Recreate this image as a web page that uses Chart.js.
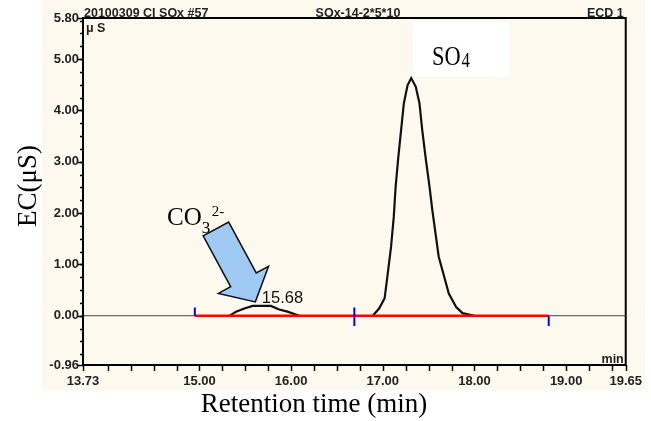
<!DOCTYPE html>
<html>
<head>
<meta charset="utf-8">
<script src="https://cdn.jsdelivr.net/npm/chart.js@4/dist/chart.umd.min.js"></script>
<style>
  html, body { margin: 0; padding: 0; background: #fff; }
  #wrap { width: 651px; height: 421px; position: relative; }
</style>
</head>
<body>
<div id="wrap"><canvas id="chart"></canvas></div>
<script>
// chromatogram trace (retention time in min, conductivity in uS)
const traceTime = [13.73, 15.33, 15.40, 15.49, 15.58, 15.78, 15.87, 15.96, 16.09,
  16.89, 16.96, 17.02, 17.05, 17.09, 17.12, 17.14, 17.17, 17.20, 17.23, 17.27, 17.31,
  17.36, 17.40, 17.43, 17.47, 17.51, 17.54, 17.58, 17.61, 17.67, 17.72, 17.80, 17.87, 18.00, 19.65];
const traceEC = [0, 0, 0.08, 0.14, 0.19, 0.19, 0.12, 0.08, 0,
  0, 0.14, 0.34, 0.76, 1.34, 1.93, 2.51, 3.10, 3.62, 4.14, 4.49, 4.63,
  4.46, 4.14, 3.62, 3.04, 2.51, 2.06, 1.54, 1.15, 0.76, 0.43, 0.17, 0.05, 0, 0];

// integration baseline and its markers
const baseStart = 14.95;
const baseEnd = 18.81;
const markerTime = [14.95, 16.69, 18.81];
const markerLow = [0, -0.2, -0.2];
const markerHigh = [0.16, 0.16, 0];

// axis labels
const xLabelValues = [13.73, 15.00, 16.00, 17.00, 18.00, 19.00, 19.65];
const yLabelValues = [-0.96, 0.00, 1.00, 2.00, 3.00, 4.00, 5.00, 5.80];

const peakLabel = { time: 15.68, value: 0.19, text: '15.68' };

const traceData = traceTime.map((t, i) => ({ x: t, y: traceEC[i] }));
const flat = ctx => ctx.p0.parsed.y === 0 && ctx.p1.parsed.y === 0;

const datasets = [
  {
    label: 'baseline',
    data: [{ x: baseStart, y: 0 }, { x: baseEnd, y: 0 }],
    borderColor: '#ff0000',
    borderWidth: 2.6,
    pointRadius: 0,
    order: 1
  },
  {
    label: 'trace',
    data: traceData,
    borderColor: '#111',
    borderWidth: 2.2,
    pointRadius: 0,
    segment: {
      borderWidth: ctx => flat(ctx) ? 1 : 2.2,
      borderColor: ctx => flat(ctx) ? '#444' : '#111'
    },
    order: 2
  }
];
markerTime.forEach((t, i) => {
  datasets.push({
    label: 'marker' + i,
    data: [{ x: t, y: markerLow[i] }, { x: t, y: markerHigh[i] }],
    borderColor: '#0000ff',
    borderWidth: 2,
    pointRadius: 0,
    order: 0
  });
});

const decorPlugin = {
  id: 'decor',
  beforeDraw(chart) {
    const c = chart.ctx;
    c.save();
    c.fillStyle = '#ffffff';
    c.fillRect(0, 0, chart.width, chart.height);
    c.fillStyle = '#fdf9ef';
    c.fillRect(42, 0, 603, 390);
    // white box behind the SO4 label
    c.fillStyle = '#ffffff';
    c.fillRect(413, 22, 97, 55);
    c.restore();
  },
  afterDraw(chart) {
    const c = chart.ctx;
    const a = chart.chartArea;
    const xs = chart.scales.x, ys = chart.scales.y;
    c.save();
    // frame
    c.strokeStyle = '#000';
    c.lineWidth = 2;
    c.strokeRect(a.left, a.top, a.right - a.left, a.bottom - a.top);

    // x ticks every 0.25 min plus ends
    c.lineWidth = 1.5;
    const xt = [13.73];
    for (let v = 14; v < 19.65; v += 0.25) xt.push(v);
    xt.push(19.65);
    xt.forEach(v => {
      const px = Math.round(xs.getPixelForValue(v)) + 0.5;
      c.beginPath();
      c.moveTo(px, a.bottom);
      c.lineTo(px, a.bottom + 6);
      c.stroke();
    });
    // y ticks: major at labels, minor every 0.25
    for (let v = -0.75; v < 5.8; v += 0.25) {
      const py = Math.round(ys.getPixelForValue(v)) + 0.5;
      c.beginPath();
      c.moveTo(a.left - 3, py);
      c.lineTo(a.left, py);
      c.stroke();
    }
    yLabelValues.forEach(v => {
      const py = Math.round(ys.getPixelForValue(v)) + 0.5;
      c.beginPath();
      c.moveTo(a.left - 5, py);
      c.lineTo(a.left, py);
      c.stroke();
    });

    // header texts
    c.fillStyle = '#222';
    c.font = 'bold 12.5px "Liberation Sans", Arial, sans-serif';
    c.textBaseline = 'alphabetic';
    c.textAlign = 'left';
    c.fillText('20100309 CI SOx #57', a.left + 1, a.top - 1);
    c.textAlign = 'center';
    c.fillText('SOx-14-2*5*10', 358, a.top - 1);
    c.textAlign = 'right';
    c.fillText('ECD 1', a.right - 2, a.top - 1);
    c.textAlign = 'left';
    c.fillText('\u03bc S', a.left + 3, a.top + 14);
    c.textAlign = 'right';
    c.fillText('min', a.right - 2, a.bottom - 2);

    // peak label
    c.font = '16.5px "Liberation Sans", Arial, sans-serif';
    c.textAlign = 'left';
    c.fillStyle = '#111';
    c.fillText(peakLabel.text, xs.getPixelForValue(peakLabel.time), ys.getPixelForValue(peakLabel.value) - 3);

    // axis titles
    c.fillStyle = '#000';
    c.font = '27px "Liberation Serif", "Times New Roman", serif';
    c.textAlign = 'center';
    c.fillText('Retention time (min)', 314, 412);
    c.save();
    c.translate(36, 186);
    c.rotate(-Math.PI / 2);
    c.fillText('EC(\u03bcS)', 0, 0);
    c.restore();

    // SO4 label (narrow serif)
    c.save();
    c.translate(432, 65);
    c.scale(0.8, 1);
    c.textAlign = 'left';
    c.font = '28px "Liberation Serif", "Times New Roman", serif';
    c.fillText('SO', 0, 0);
    const soW = c.measureText('SO').width;
    c.font = '21px "Liberation Serif", "Times New Roman", serif';
    c.fillText('4', soW + 1, 1.5);
    c.restore();

    // CO3 2- label
    c.textAlign = 'left';
    c.font = '25px "Liberation Serif", "Times New Roman", serif';
    c.fillText('CO', 167, 225);
    const coW = c.measureText('CO').width;
    c.font = '17px "Liberation Serif", "Times New Roman", serif';
    c.fillText('3', 167 + coW, 233);
    c.font = '15px "Liberation Serif", "Times New Roman", serif';
    c.fillText('2-', 167 + coW + 10, 216);

    // block arrow pointing at the carbonate peak
    const tip = { x: xs.getPixelForValue(15.61), y: ys.getPixelForValue(0.27) };
    const tail = { x: xs.getPixelForValue(15.18), y: ys.getPixelForValue(1.69) };
    const dx = tip.x - tail.x, dy = tip.y - tail.y;
    const len = Math.hypot(dx, dy);
    const ux = dx / len, uy = dy / len;
    const nx = -uy, ny = ux;
    const shaftW = 14.5, headW = 28.5, headLen = 25;
    const bx = tip.x - ux * headLen, by = tip.y - uy * headLen;
    c.beginPath();
    c.moveTo(tail.x + nx * shaftW, tail.y + ny * shaftW);
    c.lineTo(bx + nx * shaftW, by + ny * shaftW);
    c.lineTo(bx + nx * headW, by + ny * headW);
    c.lineTo(tip.x, tip.y);
    c.lineTo(bx - nx * headW, by - ny * headW);
    c.lineTo(bx - nx * shaftW, by - ny * shaftW);
    c.lineTo(tail.x - nx * shaftW, tail.y - ny * shaftW);
    c.closePath();
    c.fillStyle = '#9ecaf4';
    c.fill();
    c.strokeStyle = '#111';
    c.lineWidth = 1.5;
    c.stroke();
    c.restore();
  }
};

new Chart(document.getElementById('chart'), {
  type: 'line',
  data: { datasets: datasets },
  options: {
    responsive: true,
    maintainAspectRatio: false,
    animation: false,
    layout: { padding: { left: 0, top: 18, right: 24, bottom: 0 } },
    plugins: { legend: { display: false }, tooltip: { enabled: false } },
    scales: {
      x: {
        type: 'linear',
        min: 13.73,
        max: 19.65,
        afterBuildTicks: scale => { scale.ticks = xLabelValues.map(v => ({ value: v })); },
        afterFit: scale => { scale.height = 56; },
        grid: { display: false, drawTicks: false },
        border: { display: false },
        ticks: {
          autoSkip: false,
          maxRotation: 0,
          padding: 9,
          color: '#222',
          font: { family: 'Liberation Sans', size: 13, weight: 'bold' },
          callback: v => v.toFixed(2)
        }
      },
      y: {
        min: -0.96,
        max: 5.8,
        afterBuildTicks: scale => { scale.ticks = yLabelValues.map(v => ({ value: v })); },
        afterFit: scale => { scale.width = 83; },
        grid: { display: false, drawTicks: false },
        border: { display: false },
        ticks: {
          autoSkip: false,
          padding: 4,
          color: '#222',
          font: { family: 'Liberation Sans', size: 13, weight: 'bold' },
          callback: v => v.toFixed(2)
        }
      }
    }
  },
  plugins: [decorPlugin]
});
</script>
</body>
</html>
